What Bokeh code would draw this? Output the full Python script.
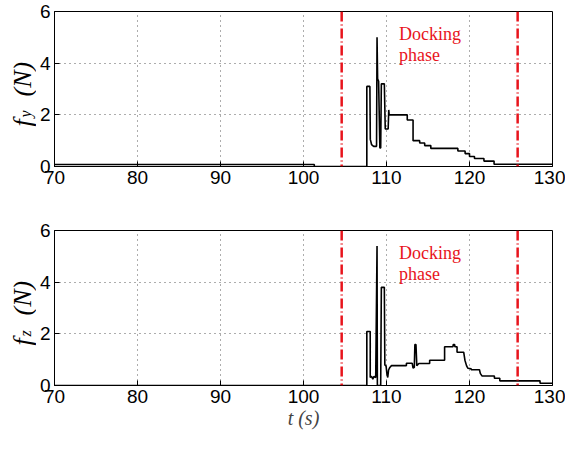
import math
from bokeh.plotting import figure
from bokeh.layouts import column, row
from bokeh.models import FixedTicker, Span, Range1d
from bokeh.core.properties import value
from bokeh.embed import file_html
from bokeh.resources import INLINE

# ---------------- data ----------------
x_ticks = [70, 80, 90, 100, 110, 120, 130]
y_ticks = [0, 2, 4, 6]
dock_start = 104.6
dock_end = 125.8
note_x = [111.5, 111.5]
note_y = [5.14, 4.30]
note_text = ["Docking", "phase"]

fy_t = [70, 101.3, 101.3, 107.63, 107.63, 108.0, 108.05, 108.2, 108.45, 108.8,
        108.86, 108.93, 109.05, 109.2, 109.3, 109.38, 109.74, 109.85, 110.2,
        110.27, 110.32, 112.5, 112.5, 113.2, 113.2, 114.0, 114.0, 114.6, 114.6,
        115.34, 115.34, 118.6, 118.6, 119.47, 119.47, 120.0, 120.0, 120.6, 120.6,
        121.74, 121.74, 122.96, 122.96, 130]
fy_v = [0.08, 0.08, 0.0, 0.0, 3.1, 3.1, 1.05, 0.85, 0.78, 0.78,
        5.0, 3.4, 3.3, 0.72, 0.72, 3.2, 3.2, 1.45, 1.45,
        2.19, 2.0, 2.0, 1.8, 1.8, 1.0, 1.0, 0.91, 0.91, 0.81,
        0.81, 0.70, 0.70, 0.60, 0.60, 0.50, 0.50, 0.39, 0.39, 0.31,
        0.31, 0.21, 0.21, 0.09, 0.09]

fz_t = [70, 107.63, 107.63, 108.04, 108.04, 108.2, 108.35, 108.5, 108.7,
        108.86, 108.9, 109.3, 109.38, 109.74, 109.8, 109.95, 110.05, 110.15,
        110.25, 110.4, 110.6, 112.4, 112.4, 113.1, 113.2, 113.35, 113.42,
        113.55, 113.65, 113.9, 115.2, 115.2, 117.0, 117.0, 118.0, 118.05,
        118.2, 118.25, 118.5, 118.5, 119.3, 119.45, 119.65, 119.8, 120.2,
        120.2, 121.2, 121.3, 121.5, 123.0, 123.0, 123.65, 123.65, 128.5,
        128.5, 130]
fz_v = [0.0, 0.0, 2.09, 2.09, 0.31, 0.35, 0.25, 0.35, 0.31,
        5.4, 0.0, 0.0, 3.8, 3.8, 0.8, 0.75, 0.45, 0.31,
        0.6, 0.7, 0.77, 0.77, 0.86, 0.86, 0.67, 0.7, 1.59,
        1.59, 0.77, 0.85, 0.85, 0.98, 0.98, 1.50, 1.50, 1.59,
        1.59, 1.50, 1.50, 1.29, 1.29, 0.98, 0.76, 0.67, 0.65,
        0.61, 0.61, 0.47, 0.37, 0.37, 0.28, 0.28, 0.18, 0.18,
        0.085, 0.085]

RED = "#e8141c"
TICK_FONT = "Liberation Sans"
SERIF = "Liberation Serif"
FRAME_H = 155
LABEL_W = 36


def make_fig(height, border_top, border_bottom, t, v, xlabel):
    p = figure(width=565 - LABEL_W, height=height, output_backend="svg",
               toolbar_location=None,
               x_range=Range1d(70, 130), y_range=Range1d(0, 6),
               min_border_left=15, min_border_right=13,
               min_border_top=border_top, min_border_bottom=border_bottom)
    p.background_fill_color = "white"
    p.border_fill_color = "white"
    p.outline_line_color = "black"
    p.outline_line_width = 1

    p.xaxis.ticker = FixedTicker(ticks=x_ticks)
    p.yaxis.ticker = FixedTicker(ticks=y_ticks)
    for ax in (p.xaxis, p.yaxis):
        ax.major_label_text_font = TICK_FONT
        ax.major_label_text_font_size = "19px"
        ax.major_label_text_color = "black"
        ax.axis_line_color = "black"
        ax.major_tick_in = 5
        ax.major_tick_out = 0
        ax.minor_tick_line_color = None
        ax.major_tick_line_color = "black"
    p.xaxis.major_label_standoff = 4
    p.yaxis.major_label_standoff = 4
    if xlabel:
        p.xaxis.axis_label = xlabel
        p.xaxis.axis_label_text_font = SERIF
        p.xaxis.axis_label_text_font_style = "italic"
        p.xaxis.axis_label_text_font_size = "20px"
        p.xaxis.axis_label_standoff = 1

    for g in (p.xgrid, p.ygrid):
        g.grid_line_color = "#333333"
        g.grid_line_alpha = 0.8
        g.grid_line_dash = "1 4"
        g.grid_line_width = 1

    p.line(t, v, line_color="black", line_width=1.6)

    for loc in (dock_start, dock_end):
        p.add_layout(Span(location=loc, dimension="height", line_color=RED,
                          line_width=2.5, line_dash="10 3 1 3"))

    p.text(x=note_x, y=note_y, text=note_text, text_color=RED,
           text_font=value(SERIF), text_font_size="18px",
           text_baseline="alphabetic", text_align="left")
    return p


def make_label(height, border_top, border_bottom, sub):
    # narrow strip holding the rotated y-axis label  f_sub (N)
    q = figure(width=LABEL_W, height=height, output_backend="svg",
               toolbar_location=None, x_axis_location=None, y_axis_location=None,
               x_range=Range1d(0, LABEL_W), y_range=Range1d(0, FRAME_H),
               min_border_left=0, min_border_right=0,
               min_border_top=border_top, min_border_bottom=border_bottom)
    q.outline_line_color = None
    q.xgrid.visible = False
    q.ygrid.visible = False
    ang = math.pi / 2
    common = dict(angle=ang, text_font=value(SERIF), text_font_style="italic",
                  text_baseline="alphabetic", text_align="left", text_color="black")
    q.text(x=[22], y=[40], text=["f"], text_font_size="26px", **common)
    q.text(x=[25], y=[49], text=[sub], text_font_size="16px", **common)
    q.text(x=[22], y=[70], text=["(N)"], text_font_size="26px", **common)
    return q


p1 = make_fig(218, 11, 52, fy_t, fy_v, None)
p2 = make_fig(219, 12, 52, fz_t, fz_v, "t (s)")
l1 = make_label(218, 11, 52, "y")
l2 = make_label(219, 12, 52, "z")

layout = column(row(l1, p1, spacing=0), row(l2, p2, spacing=0), spacing=0)
open("out.html", "w").write(file_html(layout, INLINE))
